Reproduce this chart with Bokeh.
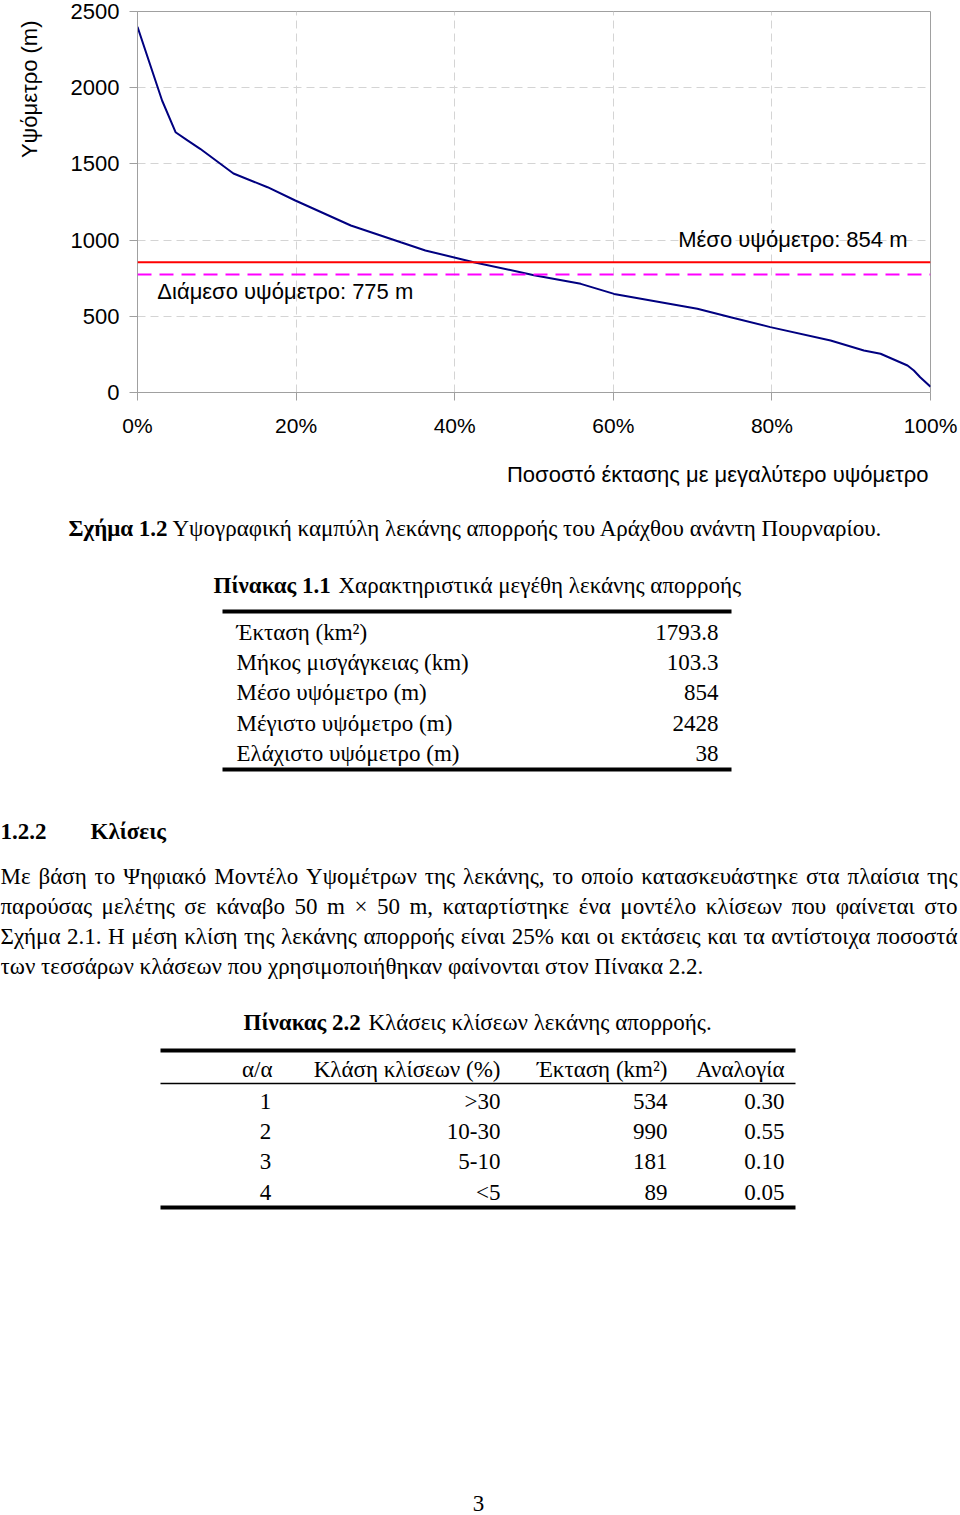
import math, glob, os
from bokeh.plotting import figure
from bokeh.layouts import column
from bokeh.models import Range1d, FixedTicker, PrintfTickFormatter, Span, Label, Title
from bokeh.core.properties import value
from bokeh.embed import file_html
from bokeh.resources import INLINE

# ---------------- chart data ----------------
area_pct = [0, 3.1, 4.8, 6.3, 7.9, 12.1, 16.4, 19.9, 26.9, 33.2, 36.3, 42.4, 50.0,
            55.9, 60.1, 70.6, 74.8, 79.8, 87.4, 91.6, 93.7, 97.1, 97.9, 98.7, 100]
elevation = [2400, 1916, 1708, 1654, 1599, 1437, 1347, 1260, 1096, 986, 932, 855, 770,
             713, 647, 549, 494, 429, 341, 276, 254, 177, 144, 100, 38]
mean_elev = 854
median_elev = 775
x_ticks = [0, 20, 40, 60, 80, 100]
y_ticks = [0, 500, 1000, 1500, 2000, 2500]

# ---------------- document data ----------------
t1_labels = ["Έκταση (km²)", "Μήκος μισγάγκειας (km)", "Μέσο υψόμετρο (m)",
             "Μέγιστο υψόμετρο (m)", "Ελάχιστο υψόμετρο (m)"]
t1_values = ["1793.8", "103.3", "854", "2428", "38"]

t2_headers = ["α/α", "Κλάση κλίσεων (%)", "Έκταση (km²)", "Αναλογία"]
t2_ids = ["1", "2", "3", "4"]
t2_classes = [">30", "10-30", "5-10", "<5"]
t2_area = [534, 990, 181, 89]
t2_ratio = [0.30, 0.55, 0.10, 0.05]

para_lines = [
    "Με βάση το Ψηφιακό Μοντέλο Υψομέτρων της λεκάνης, το οποίο κατασκευάστηκε στα πλαίσια της",
    "παρούσας μελέτης σε κάναβο 50 m × 50 m, καταρτίστηκε ένα μοντέλο κλίσεων που φαίνεται στο",
    "Σχήμα 2.1. Η μέση κλίση της λεκάνης απορροής είναι 25% και οι εκτάσεις και τα αντίστοιχα ποσοστά",
    "των τεσσάρων κλάσεων που χρησιμοποιήθηκαν φαίνονται στον Πίνακα 2.2.",
]

SANS = "Liberation Sans"
SERIF = "Liberation Serif"
CHART_FS = "22px"
DOC_FS = 23
CHART_H = 506

# ---------------- chart ----------------
p = figure(width=960, height=CHART_H, x_range=Range1d(0, 100), y_range=Range1d(0, 2500),
           output_backend="svg", toolbar_location=None,
           min_border_left=137, min_border_right=30, min_border_top=11, min_border_bottom=114)
p.background_fill_color = "white"
p.border_fill_color = "white"
p.outline_line_color = "#a0a0a0"
p.outline_line_width = 1

p.xaxis.ticker = FixedTicker(ticks=x_ticks)
p.yaxis.ticker = FixedTicker(ticks=y_ticks)
p.xaxis.formatter = PrintfTickFormatter(format="%d%%")
p.yaxis.formatter = PrintfTickFormatter(format="%d")
for ax in (p.xaxis[0], p.yaxis[0]):
    ax.axis_line_color = "#a0a0a0"
    ax.major_tick_line_color = "#a0a0a0"
    ax.major_tick_out = 8
    ax.major_tick_in = 0
    ax.minor_tick_out = 0
    ax.minor_tick_in = 0
    ax.major_label_text_font = SANS
    ax.major_label_text_font_size = CHART_FS
    ax.major_label_text_color = "black"
p.xaxis.major_label_text_font_size = "21px"
p.xaxis.major_label_standoff = 13
p.yaxis.major_label_standoff = 10
# blank spacer label pushes the vertical title outward
p.yaxis.axis_label = " "
p.yaxis.axis_label_text_font_size = "8px"
p.yaxis.axis_label_standoff = 6

p.xgrid.ticker = FixedTicker(ticks=[20, 40, 60, 80])
p.ygrid.ticker = FixedTicker(ticks=[500, 1000, 1500, 2000])
p.grid.grid_line_color = "#d4d4d4"
p.grid.grid_line_dash = "8 5"
p.grid.grid_line_width = 1

p.add_layout(Span(location=mean_elev, dimension="width", line_color="#ff0000", line_width=2))
p.add_layout(Span(location=median_elev, dimension="width", line_color="#ff00ff",
                  line_width=2, line_dash="14 8"))
p.line(area_pct, elevation, line_color="#000080", line_width=2)

p.add_layout(Label(x=97.1, y=1004, text=f"Μέσο υψόμετρο: {mean_elev} m", text_align="right",
                   text_baseline="middle", text_font=SANS, text_font_size=CHART_FS,
                   text_color="black"))
p.add_layout(Label(x=2.5, y=663, text=f"Διάμεσο υψόμετρο: {median_elev} m", text_align="left",
                   text_baseline="middle", text_font=SANS, text_font_size=CHART_FS,
                   text_color="black"))

p.add_layout(Title(text="Υψόμετρο (m)", align="right", text_font=SANS, text_font_size=CHART_FS,
                   text_font_style="normal", text_color="black", standoff=16, offset=9), "left")
p.add_layout(Title(text="Ποσοστό έκτασης με μεγαλύτερο υψόμετρο", align="right",
                   text_font=SANS, text_font_size=CHART_FS, text_font_style="normal",
                   text_color="black", standoff=40, offset=2), "below")

# ---------------- document part ----------------
d = figure(width=960, height=1515 - CHART_H, x_range=Range1d(0, 960), y_range=Range1d(1515, CHART_H),
           output_backend="svg", toolbar_location=None, min_border=0,
           min_border_left=0, min_border_right=0, min_border_top=0, min_border_bottom=0,
           x_axis_location=None, y_axis_location=None)
d.outline_line_color = None
d.grid.visible = False
d.background_fill_color = "white"
d.border_fill_color = "white"

for fig in (p, d):
    try:
        fig.frame_align = False
    except Exception:
        pass

measure = None
try:
    from PIL import ImageFont
    paths = []
    for root in ["/usr/share/fonts", "/usr/local/share/fonts", os.path.expanduser("~/.fonts")]:
        paths += glob.glob(os.path.join(root, "**", "LiberationSerif-Regular.ttf"), recursive=True)
    if paths:
        _f = ImageFont.truetype(paths[0], DOC_FS)
        measure = lambda s: _f.getlength(s)
except Exception:
    measure = None


def txt(xs, ys, texts, bold=False, align="left", size=f"{DOC_FS}px"):
    d.text(x=xs, y=ys, text=texts, text_font=value(SERIF), text_font_size=value(size),
           text_font_style=value("bold" if bold else "normal"), text_align=value(align),
           text_baseline=value("middle"), text_color="black")


# figure caption
txt([68], [528], ["Σχήμα 1.2"], bold=True)
txt([172], [528], ["Υψογραφική καμπύλη λεκάνης απορροής του Αράχθου ανάντη Πουρναρίου."])

# table 1.1
txt([213], [585], ["Πίνακας 1.1"], bold=True)
txt([338], [585], ["Χαρακτηριστικά μεγέθη λεκάνης απορροής"])
d.segment(x0=[222, 222], y0=[611, 769], x1=[731, 731], y1=[611, 769], line_color="black", line_width=4)
t1_y = [632, 662, 692, 723, 753]
txt([236] * len(t1_labels), t1_y, t1_labels)
txt([718] * len(t1_values), t1_y, t1_values, align="right")

# section heading
txt([0], [831], ["1.2.2"], bold=True)
txt([90], [831], ["Κλίσεις"], bold=True)

# paragraph (justified)
para_y = [876, 906, 936, 966]
x0, x1 = 0, 957
for i, (line, y) in enumerate(zip(para_lines, para_y)):
    last = i == len(para_lines) - 1
    if measure is None or last:
        txt([x0], [y], [line])
        continue
    words = line.split(" ")
    widths = [measure(w) for w in words]
    gap = (x1 - x0 - sum(widths)) / (len(words) - 1)
    xs, cur = [], x0
    for w in widths:
        xs.append(cur)
        cur += w + gap
    txt(xs, [y] * len(words), words)

# table 2.2
txt([243], [1022], ["Πίνακας 2.2"], bold=True)
txt([368], [1022], ["Κλάσεις κλίσεων λεκάνης απορροής."])
d.segment(x0=[160, 160], y0=[1050, 1207], x1=[795, 795], y1=[1050, 1207], line_color="black", line_width=4)
d.segment(x0=[160], y0=[1083], x1=[795], y1=[1083], line_color="black", line_width=1.5)
txt([272, 500, 667, 784], [1069] * 4, t2_headers, align="right")
t2_y = [1101, 1131, 1161, 1192]
txt([265] * 4, t2_y, t2_ids, align="center")
txt([500] * 4, t2_y, t2_classes, align="right")
txt([667] * 4, t2_y, [str(a) for a in t2_area], align="right")
txt([784] * 4, t2_y, ["%.2f" % r for r in t2_ratio], align="right")

# page number
txt([478], [1503], ["3"], align="center")

layout = column(p, d, spacing=0)
open("out.html", "w").write(file_html(layout, INLINE))
